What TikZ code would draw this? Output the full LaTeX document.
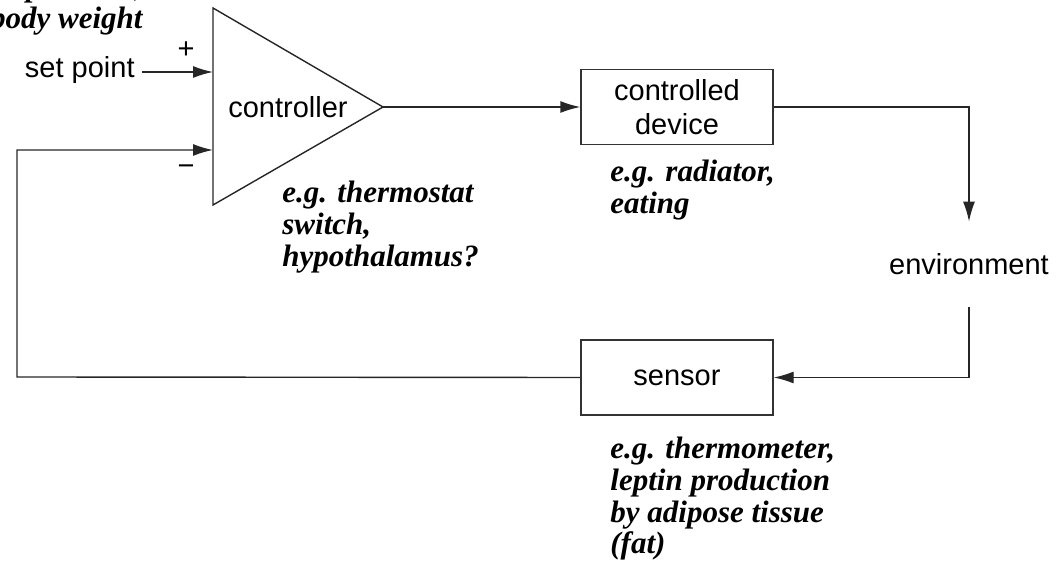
\documentclass[tikz,border=0pt]{standalone}
\usepackage{fontspec}
\setmainfont{Liberation Serif}
\setsansfont{Liberation Sans}
\usetikzlibrary{arrows.meta, positioning}

\begin{document}
\begin{tikzpicture}[
    x=0.5pt, y=-0.5pt,
    line/.style={draw=black!85, line width=0.7pt},
    arrow/.style={line, -{Latex[length=10pt, width=6pt]}},
    box/.style={rectangle, draw=black!80, line width=0.7pt, minimum width=96pt, minimum height=37.5pt, inner sep=0pt, align=center, font=\sffamily\fontsize{14.5}{17}\selectfont},
    lbl/.style={font=\sffamily\fontsize{14.5}{17}\selectfont, inner sep=0pt},
    note/.style={font=\bfseries\itshape\fontsize{15.5}{15.8}\selectfont, inner sep=0pt}
]
\useasboundingbox (0,0) rectangle (1056,571);

% controller (amplifier triangle)
\draw[line] (213,8) -- (383,107) -- (213,205) -- cycle;
\coordinate (plusin) at (213,72);
\coordinate (minusin) at (213,150);
\coordinate (ctrlout) at (383,107);
\node (ctrl) [lbl] at (288,107) {controller};
\node (plus) [lbl] at (186,50) {+};
\node (minus) [lbl] at (186,170) {−};

\node (setpt) [lbl, inner xsep=3.5pt, anchor=base east] at (142,78) {set point};
\node (device) [box] at (677,107) {controlled\\device};
\node (sensor) [box] at (677,377.5) {sensor};
\node (env) [lbl, minimum height=42.5pt] at (969,264.5) {environment};
\coordinate (fb) at (17,377);

% notes
\node (setnote) [note, align=right, anchor=north east] at (143,-21) {e.g. temperature,\\body weight};
\node (ctrlnote) [note, align=left, anchor=north west] at (282,181) {e.g. thermostat\\switch,\\hypothalamus?};
\node (devnote) [note, align=left, anchor=north west] at (610,160) {e.g. radiator,\\eating};
\node (sensnote) [note, align=left, anchor=north west] at (610,437) {e.g. thermometer,\\leptin production\\by adipose tissue\\(fat)};

% connectors
\draw[arrow] (setpt.east |- plusin) -- (plusin);
\draw[arrow] (ctrlout) -- (device.west);
\draw[arrow] (device.east) -| (env.north);
\draw[arrow] (env.south) |- (sensor.east);
\draw[arrow] (sensor.west) -- (fb) |- (minusin);
\end{tikzpicture}
\end{document}
